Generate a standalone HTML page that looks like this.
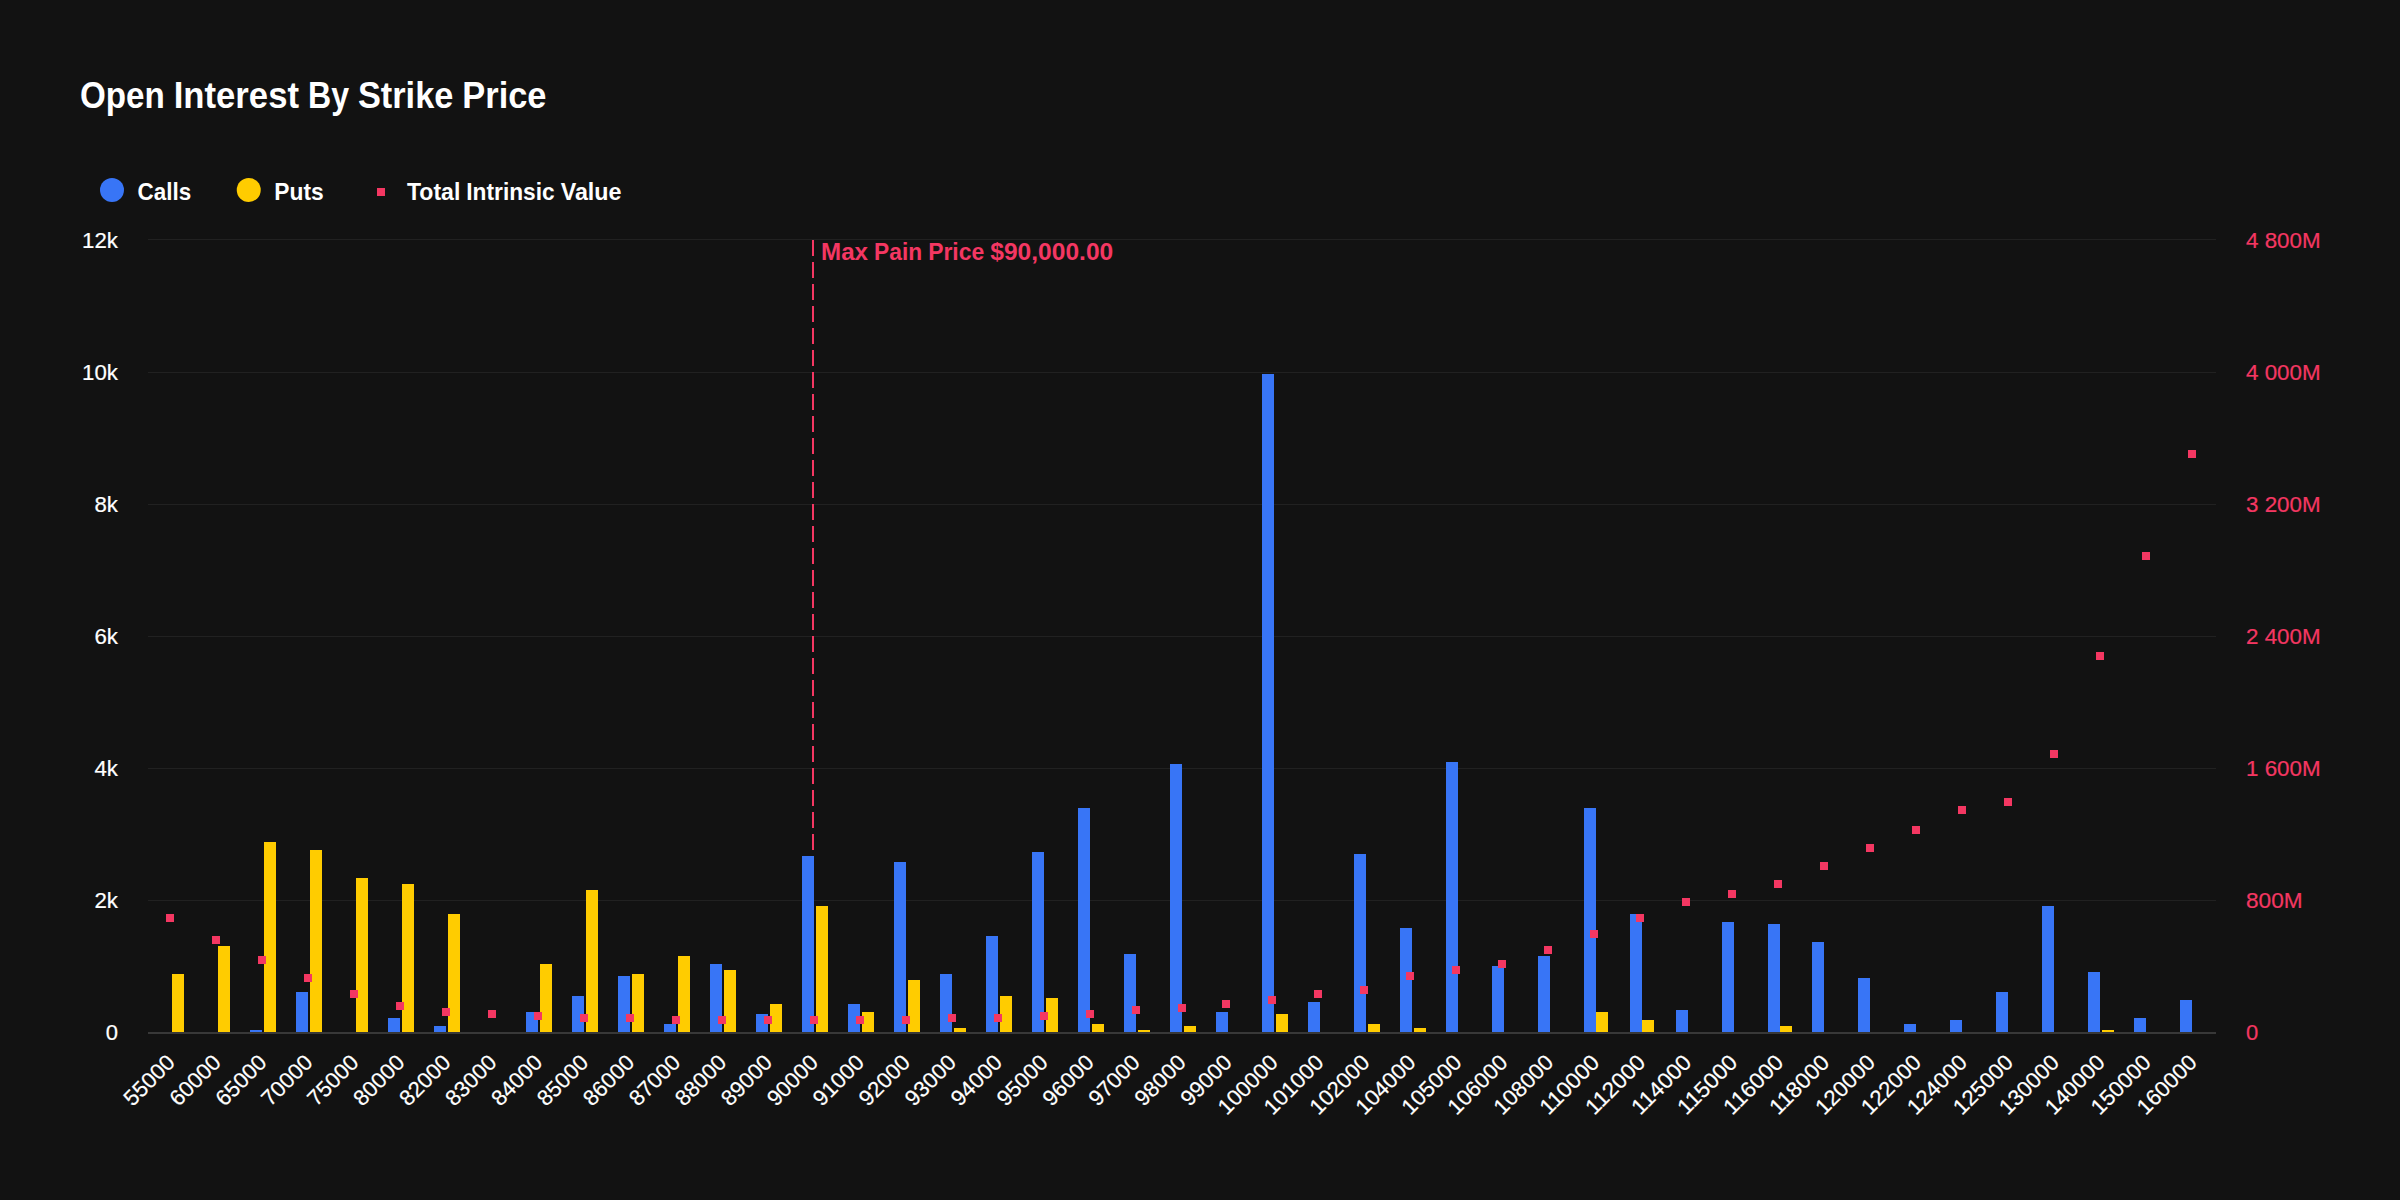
<!DOCTYPE html>
<html lang="en"><head><meta charset="utf-8"><title>Open Interest By Strike Price</title>
<style>
html,body{margin:0;padding:0;background:#121212;width:2400px;height:1200px;overflow:hidden}
svg{display:block}
text{font-family:'Liberation Sans',sans-serif;}
.t{font-size:36px;font-weight:700;fill:#FFFFFF}
.lg{font-size:24px;font-weight:700;fill:#FFFFFF}
.yl{font-size:22px;fill:#FFFFFF;text-anchor:end;stroke:#FFFFFF;stroke-width:.2px}
.yr{font-size:22px;fill:#F43762;stroke:#F43762;stroke-width:.2px}
.xl{font-size:22px;fill:#FFFFFF;text-anchor:end;stroke:#FFFFFF;stroke-width:.2px}
.mp{font-size:24px;font-weight:700;fill:#F43762}
</style></head><body>
<svg width="2400" height="1200" viewBox="0 0 2400 1200">
<rect width="2400" height="1200" fill="#121212"/>
<text class="t" y="108.2"><tspan x="80.0" textLength="84.73" lengthAdjust="spacingAndGlyphs">Open</tspan> <tspan x="173.7" textLength="125.28" lengthAdjust="spacingAndGlyphs">Interest</tspan> <tspan x="307.95" textLength="41.06" lengthAdjust="spacingAndGlyphs">By</tspan> <tspan x="357.98" textLength="95.34" lengthAdjust="spacingAndGlyphs">Strike</tspan> <tspan x="462.3" textLength="84.19" lengthAdjust="spacingAndGlyphs">Price</tspan></text>
<circle cx="112" cy="190" r="12" fill="#3875F6"/><text class="lg" x="137.5" y="200" textLength="53.7" lengthAdjust="spacingAndGlyphs">Calls</text>
<circle cx="248.75" cy="190" r="12" fill="#FFCC00"/><text class="lg" x="274.3" y="200" textLength="49.4" lengthAdjust="spacingAndGlyphs">Puts</text>
<rect x="377" y="188" width="8" height="8" fill="#F43762"/><text class="lg" y="200"><tspan x="407.0" textLength="53.33" lengthAdjust="spacingAndGlyphs">Total</tspan> <tspan x="466.31" textLength="88.38" lengthAdjust="spacingAndGlyphs">Intrinsic</tspan> <tspan x="560.67" textLength="60.8" lengthAdjust="spacingAndGlyphs">Value</tspan></text>
<g shape-rendering="crispEdges">
<rect x="148" y="239" width="2068" height="1" fill="#212121"/><rect x="148" y="372" width="2068" height="1" fill="#212121"/><rect x="148" y="504" width="2068" height="1" fill="#212121"/><rect x="148" y="636" width="2068" height="1" fill="#212121"/><rect x="148" y="768" width="2068" height="1" fill="#212121"/><rect x="148" y="900" width="2068" height="1" fill="#212121"/>
</g>
<text class="yl" x="118" y="247.8" textLength="35.88" lengthAdjust="spacingAndGlyphs">12k</text><text class="yr" x="2246" y="247.8" textLength="74.6" lengthAdjust="spacingAndGlyphs">4 800M</text>
<text class="yl" x="118" y="379.8" textLength="35.88" lengthAdjust="spacingAndGlyphs">10k</text><text class="yr" x="2246" y="379.8" textLength="74.6" lengthAdjust="spacingAndGlyphs">4 000M</text>
<text class="yl" x="118" y="511.8" textLength="23.52" lengthAdjust="spacingAndGlyphs">8k</text><text class="yr" x="2246" y="511.8" textLength="74.6" lengthAdjust="spacingAndGlyphs">3 200M</text>
<text class="yl" x="118" y="643.8" textLength="23.52" lengthAdjust="spacingAndGlyphs">6k</text><text class="yr" x="2246" y="643.8" textLength="74.6" lengthAdjust="spacingAndGlyphs">2 400M</text>
<text class="yl" x="118" y="775.8" textLength="23.52" lengthAdjust="spacingAndGlyphs">4k</text><text class="yr" x="2246" y="775.8" textLength="74.6" lengthAdjust="spacingAndGlyphs">1 600M</text>
<text class="yl" x="118" y="907.8" textLength="23.52" lengthAdjust="spacingAndGlyphs">2k</text><text class="yr" x="2246" y="907.8" textLength="56.6" lengthAdjust="spacingAndGlyphs">800M</text>
<text class="yl" x="118" y="1039.8">0</text><text class="yr" x="2246" y="1039.8">0</text>
<line x1="813" y1="240" x2="813" y2="1032" stroke="#F43762" stroke-width="2" stroke-dasharray="16 6" shape-rendering="crispEdges"/>
<text class="mp" y="259.8"><tspan x="821.0" textLength="47.0" lengthAdjust="spacingAndGlyphs">Max</tspan> <tspan x="874.11" textLength="48.05" lengthAdjust="spacingAndGlyphs">Pain</tspan> <tspan x="928.14" textLength="56.12" lengthAdjust="spacingAndGlyphs">Price</tspan> <tspan x="990.25" textLength="122.98" lengthAdjust="spacingAndGlyphs">$90,000.00</tspan></text>
<g shape-rendering="crispEdges">
<rect x="172" y="974" width="12" height="58" fill="#FFCC00"/><rect x="218" y="946" width="12" height="86" fill="#FFCC00"/><rect x="250" y="1030" width="12" height="2" fill="#3875F6"/><rect x="264" y="842" width="12" height="190" fill="#FFCC00"/><rect x="296" y="992" width="12" height="40" fill="#3875F6"/><rect x="310" y="850" width="12" height="182" fill="#FFCC00"/><rect x="356" y="878" width="12" height="154" fill="#FFCC00"/><rect x="388" y="1018" width="12" height="14" fill="#3875F6"/><rect x="402" y="884" width="12" height="148" fill="#FFCC00"/><rect x="434" y="1026" width="12" height="6" fill="#3875F6"/><rect x="448" y="914" width="12" height="118" fill="#FFCC00"/><rect x="526" y="1012" width="12" height="20" fill="#3875F6"/><rect x="540" y="964" width="12" height="68" fill="#FFCC00"/><rect x="572" y="996" width="12" height="36" fill="#3875F6"/><rect x="586" y="890" width="12" height="142" fill="#FFCC00"/><rect x="618" y="976" width="12" height="56" fill="#3875F6"/><rect x="632" y="974" width="12" height="58" fill="#FFCC00"/><rect x="664" y="1024" width="12" height="8" fill="#3875F6"/><rect x="678" y="956" width="12" height="76" fill="#FFCC00"/><rect x="710" y="964" width="12" height="68" fill="#3875F6"/><rect x="724" y="970" width="12" height="62" fill="#FFCC00"/><rect x="756" y="1014" width="12" height="18" fill="#3875F6"/><rect x="770" y="1004" width="12" height="28" fill="#FFCC00"/><rect x="802" y="856" width="12" height="176" fill="#3875F6"/><rect x="816" y="906" width="12" height="126" fill="#FFCC00"/><rect x="848" y="1004" width="12" height="28" fill="#3875F6"/><rect x="862" y="1012" width="12" height="20" fill="#FFCC00"/><rect x="894" y="862" width="12" height="170" fill="#3875F6"/><rect x="908" y="980" width="12" height="52" fill="#FFCC00"/><rect x="940" y="974" width="12" height="58" fill="#3875F6"/><rect x="954" y="1028" width="12" height="4" fill="#FFCC00"/><rect x="986" y="936" width="12" height="96" fill="#3875F6"/><rect x="1000" y="996" width="12" height="36" fill="#FFCC00"/><rect x="1032" y="852" width="12" height="180" fill="#3875F6"/><rect x="1046" y="998" width="12" height="34" fill="#FFCC00"/><rect x="1078" y="808" width="12" height="224" fill="#3875F6"/><rect x="1092" y="1024" width="12" height="8" fill="#FFCC00"/><rect x="1124" y="954" width="12" height="78" fill="#3875F6"/><rect x="1138" y="1030" width="12" height="2" fill="#FFCC00"/><rect x="1170" y="764" width="12" height="268" fill="#3875F6"/><rect x="1184" y="1026" width="12" height="6" fill="#FFCC00"/><rect x="1216" y="1012" width="12" height="20" fill="#3875F6"/><rect x="1262" y="374" width="12" height="658" fill="#3875F6"/><rect x="1276" y="1014" width="12" height="18" fill="#FFCC00"/><rect x="1308" y="1002" width="12" height="30" fill="#3875F6"/><rect x="1354" y="854" width="12" height="178" fill="#3875F6"/><rect x="1368" y="1024" width="12" height="8" fill="#FFCC00"/><rect x="1400" y="928" width="12" height="104" fill="#3875F6"/><rect x="1414" y="1028" width="12" height="4" fill="#FFCC00"/><rect x="1446" y="762" width="12" height="270" fill="#3875F6"/><rect x="1492" y="966" width="12" height="66" fill="#3875F6"/><rect x="1538" y="956" width="12" height="76" fill="#3875F6"/><rect x="1584" y="808" width="12" height="224" fill="#3875F6"/><rect x="1596" y="1012" width="12" height="20" fill="#FFCC00"/><rect x="1630" y="914" width="12" height="118" fill="#3875F6"/><rect x="1642" y="1020" width="12" height="12" fill="#FFCC00"/><rect x="1676" y="1010" width="12" height="22" fill="#3875F6"/><rect x="1722" y="922" width="12" height="110" fill="#3875F6"/><rect x="1768" y="924" width="12" height="108" fill="#3875F6"/><rect x="1780" y="1026" width="12" height="6" fill="#FFCC00"/><rect x="1812" y="942" width="12" height="90" fill="#3875F6"/><rect x="1858" y="978" width="12" height="54" fill="#3875F6"/><rect x="1904" y="1024" width="12" height="8" fill="#3875F6"/><rect x="1950" y="1020" width="12" height="12" fill="#3875F6"/><rect x="1996" y="992" width="12" height="40" fill="#3875F6"/><rect x="2042" y="906" width="12" height="126" fill="#3875F6"/><rect x="2088" y="972" width="12" height="60" fill="#3875F6"/><rect x="2102" y="1030" width="12" height="2" fill="#FFCC00"/><rect x="2134" y="1018" width="12" height="14" fill="#3875F6"/><rect x="2180" y="1000" width="12" height="32" fill="#3875F6"/>
<rect x="148" y="1032" width="2068" height="2" fill="#383838"/>
<rect x="166" y="914" width="8" height="8" fill="#F43762"/><rect x="212" y="936" width="8" height="8" fill="#F43762"/><rect x="258" y="956" width="8" height="8" fill="#F43762"/><rect x="304" y="974" width="8" height="8" fill="#F43762"/><rect x="350" y="990" width="8" height="8" fill="#F43762"/><rect x="396" y="1002" width="8" height="8" fill="#F43762"/><rect x="442" y="1008" width="8" height="8" fill="#F43762"/><rect x="488" y="1010" width="8" height="8" fill="#F43762"/><rect x="534" y="1012" width="8" height="8" fill="#F43762"/><rect x="580" y="1014" width="8" height="8" fill="#F43762"/><rect x="626" y="1014" width="8" height="8" fill="#F43762"/><rect x="672" y="1016" width="8" height="8" fill="#F43762"/><rect x="718" y="1016" width="8" height="8" fill="#F43762"/><rect x="764" y="1016" width="8" height="8" fill="#F43762"/><rect x="810" y="1016" width="8" height="8" fill="#F43762"/><rect x="856" y="1016" width="8" height="8" fill="#F43762"/><rect x="902" y="1016" width="8" height="8" fill="#F43762"/><rect x="948" y="1014" width="8" height="8" fill="#F43762"/><rect x="994" y="1014" width="8" height="8" fill="#F43762"/><rect x="1040" y="1012" width="8" height="8" fill="#F43762"/><rect x="1086" y="1010" width="8" height="8" fill="#F43762"/><rect x="1132" y="1006" width="8" height="8" fill="#F43762"/><rect x="1178" y="1004" width="8" height="8" fill="#F43762"/><rect x="1222" y="1000" width="8" height="8" fill="#F43762"/><rect x="1268" y="996" width="8" height="8" fill="#F43762"/><rect x="1314" y="990" width="8" height="8" fill="#F43762"/><rect x="1360" y="986" width="8" height="8" fill="#F43762"/><rect x="1406" y="972" width="8" height="8" fill="#F43762"/><rect x="1452" y="966" width="8" height="8" fill="#F43762"/><rect x="1498" y="960" width="8" height="8" fill="#F43762"/><rect x="1544" y="946" width="8" height="8" fill="#F43762"/><rect x="1590" y="930" width="8" height="8" fill="#F43762"/><rect x="1636" y="914" width="8" height="8" fill="#F43762"/><rect x="1682" y="898" width="8" height="8" fill="#F43762"/><rect x="1728" y="890" width="8" height="8" fill="#F43762"/><rect x="1774" y="880" width="8" height="8" fill="#F43762"/><rect x="1820" y="862" width="8" height="8" fill="#F43762"/><rect x="1866" y="844" width="8" height="8" fill="#F43762"/><rect x="1912" y="826" width="8" height="8" fill="#F43762"/><rect x="1958" y="806" width="8" height="8" fill="#F43762"/><rect x="2004" y="798" width="8" height="8" fill="#F43762"/><rect x="2050" y="750" width="8" height="8" fill="#F43762"/><rect x="2096" y="652" width="8" height="8" fill="#F43762"/><rect x="2142" y="552" width="8" height="8" fill="#F43762"/><rect x="2188" y="450" width="8" height="8" fill="#F43762"/>
</g>
<text class="xl" transform="translate(176.18 1063.7) rotate(-45)" textLength="61.77" lengthAdjust="spacingAndGlyphs">55000</text><text class="xl" transform="translate(222.13 1063.7) rotate(-45)" textLength="61.77" lengthAdjust="spacingAndGlyphs">60000</text><text class="xl" transform="translate(268.09 1063.7) rotate(-45)" textLength="61.77" lengthAdjust="spacingAndGlyphs">65000</text><text class="xl" transform="translate(314.04 1063.7) rotate(-45)" textLength="61.77" lengthAdjust="spacingAndGlyphs">70000</text><text class="xl" transform="translate(360.00 1063.7) rotate(-45)" textLength="61.77" lengthAdjust="spacingAndGlyphs">75000</text><text class="xl" transform="translate(405.96 1063.7) rotate(-45)" textLength="61.77" lengthAdjust="spacingAndGlyphs">80000</text><text class="xl" transform="translate(451.91 1063.7) rotate(-45)" textLength="61.77" lengthAdjust="spacingAndGlyphs">82000</text><text class="xl" transform="translate(497.87 1063.7) rotate(-45)" textLength="61.77" lengthAdjust="spacingAndGlyphs">83000</text><text class="xl" transform="translate(543.82 1063.7) rotate(-45)" textLength="61.77" lengthAdjust="spacingAndGlyphs">84000</text><text class="xl" transform="translate(589.78 1063.7) rotate(-45)" textLength="61.77" lengthAdjust="spacingAndGlyphs">85000</text><text class="xl" transform="translate(635.73 1063.7) rotate(-45)" textLength="61.77" lengthAdjust="spacingAndGlyphs">86000</text><text class="xl" transform="translate(681.69 1063.7) rotate(-45)" textLength="61.77" lengthAdjust="spacingAndGlyphs">87000</text><text class="xl" transform="translate(727.64 1063.7) rotate(-45)" textLength="61.77" lengthAdjust="spacingAndGlyphs">88000</text><text class="xl" transform="translate(773.60 1063.7) rotate(-45)" textLength="61.77" lengthAdjust="spacingAndGlyphs">89000</text><text class="xl" transform="translate(819.56 1063.7) rotate(-45)" textLength="61.77" lengthAdjust="spacingAndGlyphs">90000</text><text class="xl" transform="translate(865.51 1063.7) rotate(-45)" textLength="61.77" lengthAdjust="spacingAndGlyphs">91000</text><text class="xl" transform="translate(911.47 1063.7) rotate(-45)" textLength="61.77" lengthAdjust="spacingAndGlyphs">92000</text><text class="xl" transform="translate(957.42 1063.7) rotate(-45)" textLength="61.77" lengthAdjust="spacingAndGlyphs">93000</text><text class="xl" transform="translate(1003.38 1063.7) rotate(-45)" textLength="61.77" lengthAdjust="spacingAndGlyphs">94000</text><text class="xl" transform="translate(1049.33 1063.7) rotate(-45)" textLength="61.77" lengthAdjust="spacingAndGlyphs">95000</text><text class="xl" transform="translate(1095.29 1063.7) rotate(-45)" textLength="61.77" lengthAdjust="spacingAndGlyphs">96000</text><text class="xl" transform="translate(1141.24 1063.7) rotate(-45)" textLength="61.77" lengthAdjust="spacingAndGlyphs">97000</text><text class="xl" transform="translate(1187.20 1063.7) rotate(-45)" textLength="61.77" lengthAdjust="spacingAndGlyphs">98000</text><text class="xl" transform="translate(1233.16 1063.7) rotate(-45)" textLength="61.77" lengthAdjust="spacingAndGlyphs">99000</text><text class="xl" transform="translate(1279.11 1063.7) rotate(-45)" textLength="74.12" lengthAdjust="spacingAndGlyphs">100000</text><text class="xl" transform="translate(1325.07 1063.7) rotate(-45)" textLength="74.12" lengthAdjust="spacingAndGlyphs">101000</text><text class="xl" transform="translate(1371.02 1063.7) rotate(-45)" textLength="74.12" lengthAdjust="spacingAndGlyphs">102000</text><text class="xl" transform="translate(1416.98 1063.7) rotate(-45)" textLength="74.12" lengthAdjust="spacingAndGlyphs">104000</text><text class="xl" transform="translate(1462.93 1063.7) rotate(-45)" textLength="74.12" lengthAdjust="spacingAndGlyphs">105000</text><text class="xl" transform="translate(1508.89 1063.7) rotate(-45)" textLength="74.12" lengthAdjust="spacingAndGlyphs">106000</text><text class="xl" transform="translate(1554.84 1063.7) rotate(-45)" textLength="74.12" lengthAdjust="spacingAndGlyphs">108000</text><text class="xl" transform="translate(1600.80 1063.7) rotate(-45)" textLength="74.12" lengthAdjust="spacingAndGlyphs">110000</text><text class="xl" transform="translate(1646.76 1063.7) rotate(-45)" textLength="74.12" lengthAdjust="spacingAndGlyphs">112000</text><text class="xl" transform="translate(1692.71 1063.7) rotate(-45)" textLength="74.12" lengthAdjust="spacingAndGlyphs">114000</text><text class="xl" transform="translate(1738.67 1063.7) rotate(-45)" textLength="74.12" lengthAdjust="spacingAndGlyphs">115000</text><text class="xl" transform="translate(1784.62 1063.7) rotate(-45)" textLength="74.12" lengthAdjust="spacingAndGlyphs">116000</text><text class="xl" transform="translate(1830.58 1063.7) rotate(-45)" textLength="74.12" lengthAdjust="spacingAndGlyphs">118000</text><text class="xl" transform="translate(1876.53 1063.7) rotate(-45)" textLength="74.12" lengthAdjust="spacingAndGlyphs">120000</text><text class="xl" transform="translate(1922.49 1063.7) rotate(-45)" textLength="74.12" lengthAdjust="spacingAndGlyphs">122000</text><text class="xl" transform="translate(1968.44 1063.7) rotate(-45)" textLength="74.12" lengthAdjust="spacingAndGlyphs">124000</text><text class="xl" transform="translate(2014.40 1063.7) rotate(-45)" textLength="74.12" lengthAdjust="spacingAndGlyphs">125000</text><text class="xl" transform="translate(2060.36 1063.7) rotate(-45)" textLength="74.12" lengthAdjust="spacingAndGlyphs">130000</text><text class="xl" transform="translate(2106.31 1063.7) rotate(-45)" textLength="74.12" lengthAdjust="spacingAndGlyphs">140000</text><text class="xl" transform="translate(2152.27 1063.7) rotate(-45)" textLength="74.12" lengthAdjust="spacingAndGlyphs">150000</text><text class="xl" transform="translate(2198.22 1063.7) rotate(-45)" textLength="74.12" lengthAdjust="spacingAndGlyphs">160000</text>
</svg>
</body></html>
